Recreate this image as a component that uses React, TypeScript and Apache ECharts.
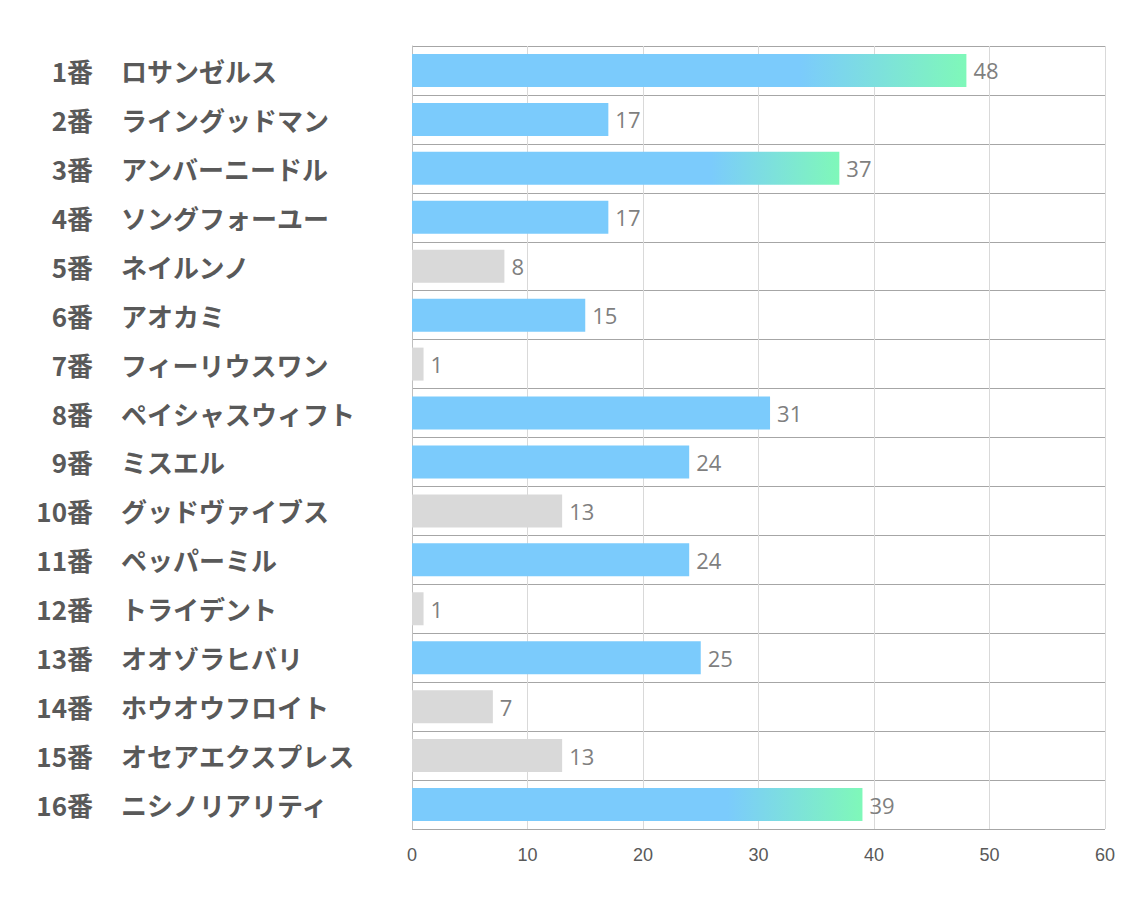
import React, { useEffect, useRef } from "react";
import * as echarts from "echarts";

const numbers = ["1番", "2番", "3番", "4番", "5番", "6番", "7番", "8番", "9番", "10番", "11番", "12番", "13番", "14番", "15番", "16番"];
const names = ["ロサンゼルス", "ライングッドマン", "アンバーニードル", "ソングフォーユー", "ネイルンノ", "アオカミ", "フィーリウスワン", "ペイシャスウィフト", "ミスエル", "グッドヴァイブス", "ペッパーミル", "トライデント", "オオゾラヒバリ", "ホウオウフロイト", "オセアエクスプレス", "ニシノリアリティ"];
const values = [48, 17, 37, 17, 8, 15, 1, 31, 24, 13, 24, 1, 25, 7, 13, 39];
const barTypes = ["top", "blue", "top", "blue", "grey", "blue", "grey", "blue", "blue", "grey", "blue", "grey", "blue", "grey", "grey", "top"];
const xTicks = { min: 0, max: 60, interval: 10 };

const BLUE = "#7bcbfc";
const GREEN = "#7ff8b9";
const GREY = "#d9d9d9";

function colorFor(t: string) {
  if (t === "top") {
    return new echarts.graphic.LinearGradient(0, 0, 1, 0, [
      { offset: 0, color: BLUE },
      { offset: 0.7, color: BLUE },
      { offset: 1, color: GREEN },
    ]);
  }
  return t === "blue" ? BLUE : GREY;
}

const catLabelStyle = {
  fontSize: 26,
  fontWeight: "bold",
  color: "#595959",
  fontFamily: "Noto Sans CJK JP",
};

export default function App() {
  const ref = useRef<HTMLDivElement>(null);
  useEffect(() => {
    const chart = echarts.init(ref.current!, null, { renderer: "svg" });
    chart.setOption({
      animation: false,
      backgroundColor: "#ffffff",
      grid: { left: 412, right: 29, top: 46, bottom: 78, containLabel: false },
      xAxis: {
        type: "value",
        min: xTicks.min,
        max: xTicks.max,
        interval: xTicks.interval,
        axisLine: { show: false },
        axisTick: { show: false },
        axisLabel: {
          color: "#595959",
          fontSize: 18,
          fontFamily: "Liberation Sans Narrow, Liberation Sans",
          margin: 17,
        },
        splitLine: { show: true, lineStyle: { color: "#d9d9d9", width: 1 } },
      },
      yAxis: [
        {
          type: "category",
          inverse: true,
          data: numbers,
          axisLine: { show: true, lineStyle: { color: "#bfbfbf" } },
          axisTick: { show: false },
          splitLine: { show: true, lineStyle: { color: "#a6a6a6", width: 1 } },
          axisLabel: { ...catLabelStyle, align: "right", margin: 319 },
        },
        {
          type: "category",
          inverse: true,
          position: "left",
          data: names,
          axisLine: { show: false },
          axisTick: { show: false },
          splitLine: { show: false },
          axisLabel: { ...catLabelStyle, align: "left", margin: 291 },
        },
      ],
      series: [
        {
          type: "bar",
          yAxisIndex: 0,
          barWidth: 33,
          data: values.map((v, i) => ({ value: v, itemStyle: { color: colorFor(barTypes[i]) } })),
          label: {
            show: true,
            position: "right",
            distance: 7,
            color: "#7f7f7f",
            fontSize: 22,
            fontFamily: "Open Sans, Noto Sans",
          },
        },
      ],
    });
    return () => chart.dispose();
  }, []);
  return (
    <div
      ref={ref}
      style={{ position: "fixed", left: 0, top: 0, width: 1134, height: 907 }}
    />
  );
}
